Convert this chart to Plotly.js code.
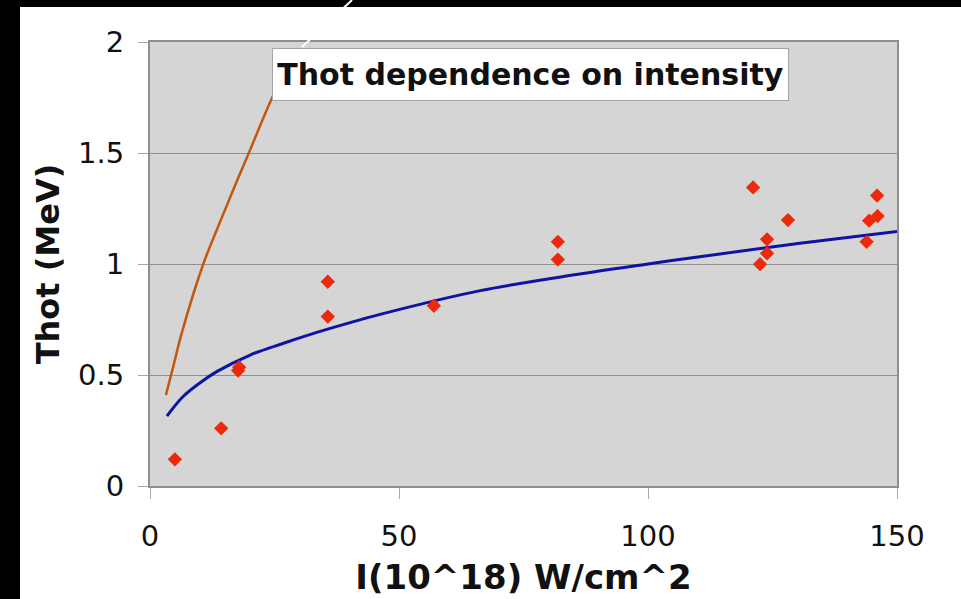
<!DOCTYPE html>
<html>
<head>
<meta charset="utf-8">
<script src="https://cdn.plot.ly/plotly-3.0.1.min.js"></script>
<style>
  html, body { margin: 0; padding: 0; background: #ffffff; }
  #chart { width: 961px; height: 599px; }
</style>
</head>
<body>
<div id="chart"></div>
<script>
// Measured data points (intensity in 10^18 W/cm^2, Thot in MeV)
const intensity = [5.0, 14.3, 17.7, 17.9, 35.7, 35.7, 57.0, 81.9, 81.9, 121.1, 128.1, 123.9, 123.9, 122.5, 146.0, 144.4, 146.1, 143.9];
const thot      = [0.12, 0.26, 0.52, 0.535, 0.92, 0.763, 0.812, 1.10, 1.02, 1.345, 1.198, 1.111, 1.048, 0.999, 1.308, 1.195, 1.216, 1.10];

// Blue fit curve
const fitX = [3.4, 6.6, 10.0, 13.4, 20.1, 26.8, 33.5, 40.2, 46.2, 66.3, 86.3, 100.0, 110.4, 130.5, 150.9];
const fitY = [0.315, 0.402, 0.464, 0.515, 0.59, 0.643, 0.692, 0.736, 0.773, 0.88, 0.955, 1.0, 1.033, 1.093, 1.149];

// Orange curve (runs under the title box)
const orX = [3.2, 4.7, 6.4, 10.7, 13.4, 16.7, 20.1, 24.5, 29.0];
const orY = [0.41, 0.541, 0.691, 1.0, 1.153, 1.333, 1.514, 1.748, 1.95];

const xTicks = [0, 50, 100, 150];
const yTicks = [0, 0.5, 1, 1.5, 2];
const yTickText = ['0', '0.5', '1', '1.5', '2'];

const titleText = 'Thot dependence on intensity';
const xTitle = 'I(10^18) W/cm^2';
const yTitle = 'Thot (MeV)';

// page-pixel -> paper helpers (plot area 150..897 x 42..486)
const L = 150, R = 897, T = 42, B = 486;
const px = v => (v - L) / (R - L);
const py = v => (B - v) / (B - T);

const FONT = 'DejaVu Sans, Verdana, sans-serif';

const traces = [
  {
    x: orX, y: orY, type: 'scatter', mode: 'lines',
    line: { color: '#c4570f', width: 2.5, shape: 'spline', smoothing: 1 },
    hoverinfo: 'skip', showlegend: false
  },
  {
    x: fitX, y: fitY, type: 'scatter', mode: 'lines',
    line: { color: '#0d14a3', width: 3, shape: 'spline', smoothing: 1 },
    hoverinfo: 'skip', showlegend: false
  },
  {
    x: intensity, y: thot, type: 'scatter', mode: 'markers',
    marker: { symbol: 'diamond', size: 11, color: '#ec2a0a' },
    cliponaxis: false, showlegend: false
  }
];

const layout = {
  width: 961, height: 599,
  margin: { l: L, r: 961 - R, t: T, b: 599 - B, pad: 0 },
  paper_bgcolor: '#ffffff',
  plot_bgcolor: '#d5d5d5',
  showlegend: false,
  font: { family: FONT, color: '#111111' },
  xaxis: {
    range: [0, 150], tickvals: xTicks, ticktext: xTicks.map(String),
    ticks: 'outside', ticklen: 11, tickcolor: '#a8a8a8', tickwidth: 1,
    ticklabelstandoff: 12,
    tickfont: { family: FONT, size: 29, color: '#111111' },
    showgrid: false, zeroline: false,
    showline: true, linecolor: '#8e8e8e', linewidth: 2, mirror: true,
    title: { text: xTitle, font: { family: FONT, size: 34, color: '#111111', weight: 'bold' }, standoff: 13 }
  },
  yaxis: {
    range: [0, 2], tickvals: yTicks, ticktext: yTickText,
    ticks: 'outside', ticklen: 10, tickcolor: '#a8a8a8', tickwidth: 1,
    ticklabelstandoff: 8,
    tickfont: { family: FONT, size: 29, color: '#111111' },
    showgrid: true, gridcolor: '#8f8f8f', gridwidth: 1, zeroline: false,
    showline: true, linecolor: '#8e8e8e', linewidth: 2, mirror: true,
    title: { text: yTitle, font: { family: FONT, size: 32, color: '#111111', weight: 'bold' }, standoff: 9 }
  },
  annotations: [
    {
      text: '<b>' + titleText + '</b>',
      xref: 'paper', yref: 'paper',
      x: px((272 + 789) / 2), y: py((48 + 101) / 2),
      xanchor: 'center', yanchor: 'middle',
      showarrow: false,
      font: { family: FONT, size: 30, color: '#111111' },
      bgcolor: '#ffffff', bordercolor: '#a5a5a5', borderwidth: 1,
      width: 509, height: 45, borderpad: 3, align: 'center'
    }
  ],
  shapes: [
    // black frame strips of the original slide
    { type: 'rect', xref: 'paper', yref: 'paper', x0: px(0), x1: px(20), y0: py(599), y1: py(0),
      fillcolor: '#000000', line: { width: 0 }, layer: 'above' },
    { type: 'rect', xref: 'paper', yref: 'paper', x0: px(0), x1: px(961), y0: py(7), y1: py(0),
      fillcolor: '#000000', line: { width: 0 }, layer: 'above' },
    // callout pointer of the title box
    { type: 'line', xref: 'paper', yref: 'paper', x0: px(302), y0: py(47), x1: px(352), y1: py(0),
      line: { color: '#ffffff', width: 2 }, layer: 'above' }
  ]
};

Plotly.newPlot('chart', traces, layout, { displayModeBar: false, staticPlot: true });
</script>
</body>
</html>
